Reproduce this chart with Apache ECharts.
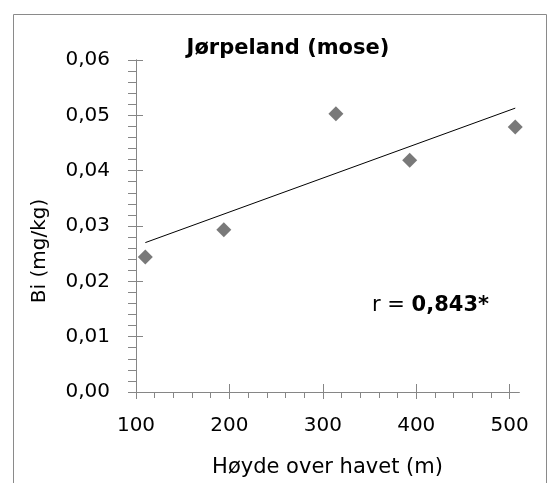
<!DOCTYPE html>
<html><head><meta charset="utf-8">
<script src="https://cdn.jsdelivr.net/npm/echarts@6/dist/echarts.min.js"></script>
<style>html,body{margin:0;padding:0;background:#fff}#c{width:551px;height:483px}</style>
</head><body><div id="c"></div>
<script>
// Data
const heights = [110, 194, 314, 393, 506];
const biValues = [0.0244, 0.0293, 0.0503, 0.0419, 0.0479];
const trendX = [110, 506];
const trendY = [0.0270, 0.0513];
const xTicks = [100, 200, 300, 400, 500];
const yTicks = [0, 0.01, 0.02, 0.03, 0.04, 0.05, 0.06];
const titleText = 'Jørpeland (mose)';
const xName = 'Høyde over havet (m)';
const yName = 'Bi (mg/kg)';

const FONT = 'DejaVu Sans';
const AX = '#868686';
const xMinor = [];
for (let i = 0; i < xTicks.length - 1; i++) {
  const step = (xTicks[i + 1] - xTicks[i]) / 5;
  for (let k = 1; k < 5; k++) xMinor.push(xTicks[i] + k * step);
}
const xBase = {type: 'value', min: 100, max: 510, position: 'bottom', splitLine: {show: false},
  axisLine: {onZero: false, lineStyle: {color: AX, width: 1}}};
const yBase = {type: 'value', min: 0, max: 0.06, interval: 0.01, position: 'left', splitLine: {show: false},
  axisLine: {onZero: false, lineStyle: {color: AX, width: 1}}};

const chart = echarts.init(document.getElementById('c'));
chart.setOption({
  animation: false,
  backgroundColor: '#fff',
  title: {text: titleText, left: 283, textAlign: 'center', top: 33,
    textStyle: {fontFamily: FONT, fontWeight: 'bold', fontSize: 21, color: '#000'}},
  grid: {left: 136, right: 32, top: 60, bottom: 88},
  xAxis: [
    Object.assign({}, xBase, {
      name: xName, nameLocation: 'middle', nameGap: 65,
      nameTextStyle: {fontFamily: FONT, fontSize: 21, color: '#000'},
      axisTick: {show: true, length: 7, customValues: xTicks, lineStyle: {color: AX}},
      axisLabel: {customValues: xTicks, margin: 24, fontFamily: FONT, fontSize: 20, color: '#000'}
    }),
    Object.assign({}, xBase, {
      axisTick: {show: true, inside: true, length: 8, customValues: xTicks, lineStyle: {color: AX}},
      axisLabel: {show: false}
    }),
    Object.assign({}, xBase, {
      axisTick: {show: true, length: 6, customValues: xMinor, lineStyle: {color: AX}},
      axisLabel: {show: false}
    })
  ],
  yAxis: [
    Object.assign({}, yBase, {
      axisTick: {show: true, length: 8, lineStyle: {color: AX}},
      minorTick: {show: true, splitNumber: 5, length: 8, lineStyle: {color: AX}},
      axisLabel: {margin: 26, fontFamily: FONT, fontSize: 20, color: '#000',
        formatter: v => v.toFixed(2).replace('.', ',')}
    }),
    Object.assign({}, yBase, {
      axisTick: {show: true, inside: true, length: 7, lineStyle: {color: AX}},
      axisLabel: {show: false}
    })
  ],
  graphic: [
    {type: 'rect', left: 11, top: 12, silent: true, z: -1,
      shape: {width: 533, height: 490}, style: {fill: 'none', stroke: '#8a8a8a', lineWidth: 1}},
    {type: 'text', x: 40, y: 251, rotation: Math.PI / 2, silent: true,
      style: {text: yName, fontFamily: FONT, fontSize: 20, fill: '#000', align: 'center', verticalAlign: 'middle'}},
    {type: 'text', left: 372, top: 295, silent: true,
      style: {text: '{n|r = }{b|0,843*}', rich: {
        n: {fontFamily: FONT, fontSize: 21, color: '#000'},
        b: {fontFamily: FONT, fontSize: 21, fontWeight: 'bold', color: '#000'}}}}
  ],
  series: [
    {type: 'line', xAxisIndex: 0, yAxisIndex: 0, data: trendX.map((x, i) => [x, trendY[i]]),
      symbol: 'none', lineStyle: {color: '#000', width: 1}, z: 2},
    {type: 'scatter', xAxisIndex: 0, yAxisIndex: 0, data: heights.map((x, i) => [x, biValues[i]]),
      symbol: 'diamond', symbolSize: 15, itemStyle: {color: '#575757'}, z: 3}
  ]
});
</script></body></html>
